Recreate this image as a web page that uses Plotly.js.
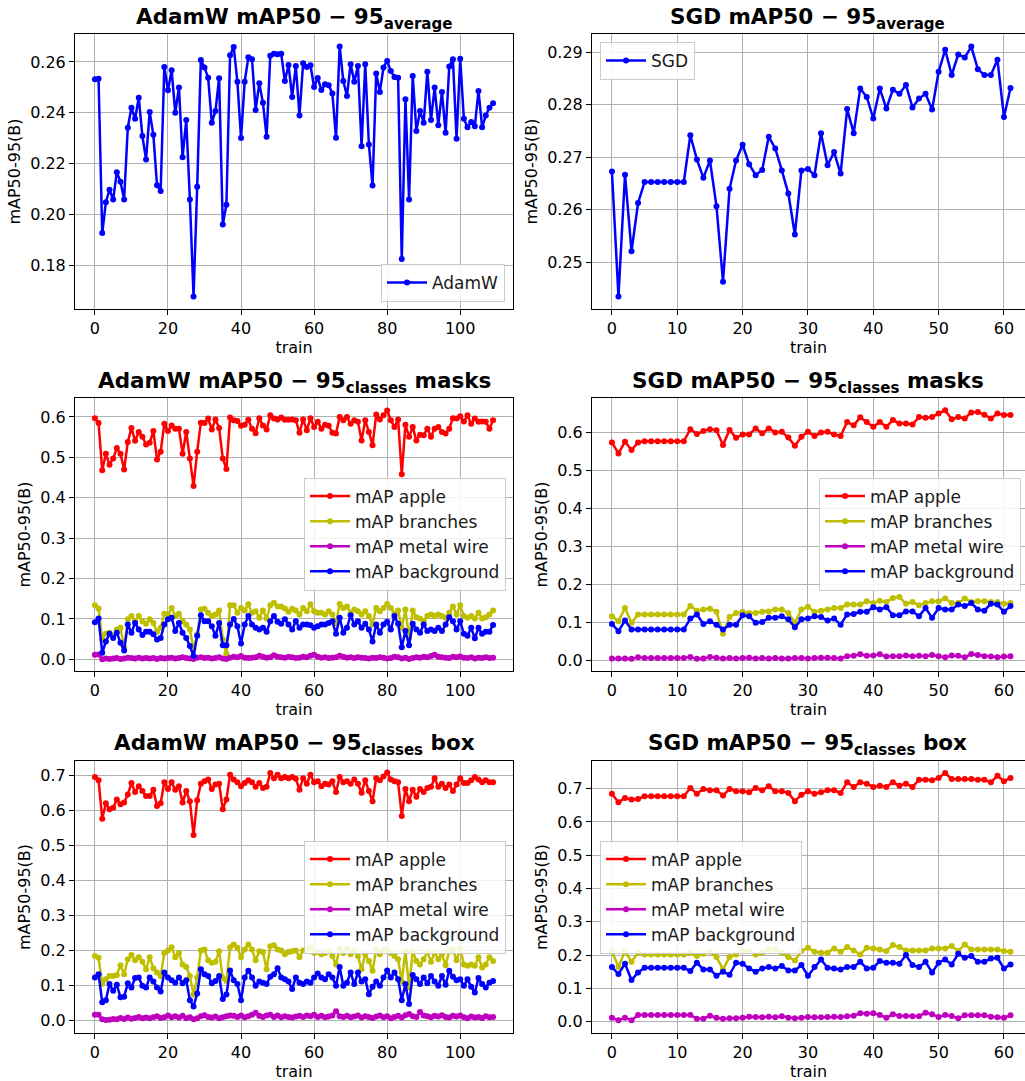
<!DOCTYPE html>
<html>
<head>
<meta charset="utf-8">
<script src="https://cdn.plot.ly/plotly-3.0.1.min.js"></script>
<style>html,body{margin:0;padding:0;background:#fff;}#chart{width:1025px;height:1081px;}</style>
</head>
<body>
<div id="chart"></div>
<script>
// ---------------- DATA ----------------
const adamwAverage = [
0.2532,0.2534,0.1926,0.2047,0.2097,0.2058,0.2166,0.2128,0.2058,0.2341,
0.2420,0.2376,0.2459,0.2308,0.2216,0.2403,0.2313,0.2114,0.2092,0.2580,
0.2488,0.2567,0.2400,0.2499,0.2225,0.2371,0.2058,0.1676,0.2108,0.2608,
0.2578,0.2538,0.2360,0.2407,0.2536,0.1960,0.2038,0.2626,0.2659,0.2522,
0.2300,0.2522,0.2618,0.2611,0.2411,0.2516,0.2439,0.2305,0.2624,0.2632,
0.2630,0.2632,0.2525,0.2588,0.2462,0.2584,0.2389,0.2595,0.2580,0.2587,
0.2501,0.2537,0.2489,0.2512,0.2508,0.2476,0.2301,0.2661,0.2525,0.2466,
0.2591,0.2522,0.2584,0.2268,0.2591,0.2275,0.2113,0.2554,0.2482,0.2578,
0.2604,0.2564,0.2541,0.2538,0.1824,0.2453,0.2058,0.2545,0.2328,0.2407,
0.2360,0.2561,0.2371,0.2499,0.2351,0.2482,0.2321,0.2582,0.2611,0.2297,
0.2613,0.2376,0.2343,0.2363,0.2347,0.2486,0.2343,0.2389,0.2420,0.2437];

const sgdAverage = [
0.2673,0.2435,0.2667,0.2521,0.2613,0.2653,0.2653,0.2653,0.2653,0.2653,
0.2653,0.2653,0.2742,0.2696,0.2661,0.2694,0.2607,0.2463,0.2640,0.2694,
0.2724,0.2687,0.2666,0.2676,0.2739,0.2717,0.2675,0.2631,0.2553,0.2675,
0.2678,0.2666,0.2746,0.2685,0.2710,0.2669,0.2792,0.2746,0.2831,0.2815,
0.2774,0.2831,0.2793,0.2829,0.2821,0.2838,0.2795,0.2812,0.2821,0.2791,
0.2863,0.2905,0.2857,0.2896,0.2890,0.2911,0.2868,0.2857,0.2857,0.2886,
0.2777,0.2832];

// AdamW masks
const adamwMaskApple = [
0.597,0.585,0.468,0.509,0.482,0.497,0.523,0.509,0.470,0.538,
0.573,0.541,0.563,0.551,0.532,0.536,0.565,0.495,0.514,0.583,
0.565,0.579,0.571,0.571,0.509,0.563,0.497,0.429,0.514,0.586,
0.585,0.596,0.569,0.594,0.573,0.497,0.471,0.599,0.592,0.590,
0.578,0.581,0.593,0.571,0.560,0.597,0.579,0.569,0.604,0.596,
0.594,0.599,0.593,0.593,0.594,0.592,0.561,0.594,0.567,0.597,
0.575,0.588,0.571,0.581,0.578,0.561,0.559,0.600,0.592,0.600,
0.583,0.592,0.588,0.542,0.592,0.563,0.530,0.606,0.594,0.604,
0.616,0.592,0.575,0.594,0.458,0.581,0.551,0.575,0.542,0.556,
0.555,0.571,0.551,0.571,0.575,0.563,0.559,0.571,0.597,0.596,
0.602,0.589,0.604,0.583,0.596,0.588,0.589,0.588,0.571,0.592];
const adamwMaskBranches = [
0.134,0.126,0.049,0.063,0.066,0.058,0.074,0.078,0.030,0.099,
0.107,0.094,0.107,0.094,0.088,0.099,0.090,0.068,0.078,0.113,
0.111,0.127,0.107,0.113,0.094,0.086,0.074,0.025,0.062,0.123,
0.125,0.115,0.107,0.111,0.121,0.049,0.014,0.134,0.134,0.115,
0.127,0.121,0.136,0.115,0.119,0.103,0.121,0.101,0.134,0.140,
0.131,0.131,0.126,0.118,0.125,0.121,0.111,0.127,0.119,0.136,
0.119,0.115,0.115,0.111,0.119,0.111,0.090,0.137,0.127,0.131,
0.115,0.123,0.119,0.111,0.119,0.107,0.086,0.127,0.119,0.127,
0.137,0.127,0.113,0.121,0.078,0.123,0.053,0.121,0.104,0.101,
0.094,0.107,0.111,0.107,0.111,0.107,0.103,0.115,0.131,0.111,
0.134,0.107,0.103,0.107,0.101,0.115,0.101,0.104,0.111,0.121];
const adamwMaskWire = [
0.011,0.012,0.000,0.002,0.001,0.002,0.003,0.001,0.002,0.004,
0.003,0.002,0.004,0.002,0.003,0.002,0.003,0.001,0.003,0.002,
0.003,0.004,0.002,0.003,0.005,0.003,0.002,0.001,0.004,0.005,
0.003,0.004,0.002,0.003,0.005,0.002,0.001,0.004,0.006,0.005,
0.008,0.004,0.003,0.004,0.005,0.009,0.006,0.004,0.005,0.010,
0.006,0.005,0.004,0.006,0.005,0.003,0.004,0.006,0.005,0.009,
0.011,0.006,0.004,0.005,0.003,0.004,0.005,0.009,0.006,0.004,
0.005,0.003,0.005,0.004,0.003,0.002,0.004,0.003,0.005,0.004,
0.002,0.003,0.006,0.005,0.002,0.004,0.001,0.003,0.005,0.004,
0.006,0.005,0.008,0.011,0.006,0.005,0.004,0.003,0.006,0.005,
0.007,0.004,0.003,0.005,0.002,0.004,0.003,0.005,0.003,0.004];
const adamwMaskBackground = [
0.092,0.101,0.016,0.044,0.063,0.053,0.066,0.041,0.022,0.086,
0.066,0.090,0.074,0.060,0.068,0.068,0.062,0.049,0.053,0.086,
0.099,0.103,0.070,0.090,0.066,0.053,0.033,0.008,0.058,0.109,
0.094,0.094,0.082,0.058,0.090,0.035,0.035,0.086,0.100,0.082,
0.039,0.086,0.107,0.086,0.078,0.074,0.078,0.068,0.094,0.107,
0.093,0.088,0.099,0.086,0.074,0.094,0.078,0.086,0.086,0.084,
0.078,0.082,0.086,0.086,0.090,0.094,0.063,0.103,0.066,0.078,
0.109,0.086,0.094,0.078,0.088,0.074,0.044,0.086,0.066,0.086,
0.093,0.074,0.107,0.088,0.030,0.070,0.035,0.088,0.074,0.066,
0.086,0.070,0.074,0.070,0.078,0.070,0.086,0.104,0.094,0.074,
0.094,0.063,0.058,0.078,0.052,0.078,0.063,0.068,0.068,0.085];

// SGD masks
const sgdMaskApple = [
0.574,0.545,0.576,0.554,0.574,0.577,0.577,0.577,0.577,0.577,
0.577,0.577,0.609,0.596,0.604,0.609,0.606,0.567,0.607,0.586,
0.595,0.595,0.611,0.598,0.611,0.600,0.602,0.587,0.565,0.589,
0.602,0.591,0.600,0.602,0.595,0.591,0.628,0.619,0.640,0.628,
0.615,0.628,0.615,0.633,0.624,0.624,0.621,0.641,0.639,0.641,
0.650,0.659,0.635,0.641,0.637,0.653,0.654,0.647,0.637,0.650,
0.646,0.646];
const sgdMaskBranches = [
0.116,0.103,0.138,0.099,0.121,0.121,0.121,0.121,0.121,0.121,
0.121,0.121,0.143,0.131,0.134,0.136,0.128,0.070,0.114,0.125,
0.128,0.125,0.125,0.128,0.129,0.134,0.134,0.125,0.099,0.134,
0.141,0.128,0.131,0.134,0.138,0.138,0.147,0.147,0.147,0.156,
0.151,0.157,0.154,0.164,0.167,0.149,0.154,0.145,0.151,0.156,
0.156,0.163,0.151,0.151,0.163,0.154,0.156,0.156,0.154,0.154,
0.149,0.151];
const sgdMaskWire = [
0.005,0.005,0.005,0.004,0.008,0.006,0.006,0.006,0.006,0.006,
0.006,0.006,0.009,0.004,0.005,0.009,0.007,0.005,0.006,0.005,
0.006,0.007,0.005,0.006,0.005,0.006,0.005,0.005,0.006,0.006,
0.005,0.006,0.007,0.007,0.006,0.005,0.011,0.012,0.016,0.012,
0.013,0.016,0.010,0.011,0.011,0.013,0.011,0.012,0.011,0.014,
0.011,0.008,0.013,0.012,0.008,0.017,0.014,0.011,0.010,0.008,
0.010,0.011];
const sgdMaskBackground = [
0.096,0.077,0.105,0.081,0.081,0.081,0.081,0.081,0.081,0.081,
0.081,0.081,0.110,0.121,0.096,0.103,0.094,0.081,0.094,0.094,
0.119,0.116,0.099,0.101,0.112,0.112,0.116,0.108,0.087,0.108,
0.110,0.116,0.114,0.105,0.110,0.094,0.121,0.122,0.128,0.128,
0.140,0.134,0.140,0.119,0.119,0.129,0.129,0.116,0.138,0.112,
0.138,0.134,0.134,0.147,0.143,0.151,0.134,0.131,0.149,0.147,
0.128,0.143];

// AdamW box
const adamwBoxApple = [
0.696,0.687,0.577,0.621,0.604,0.608,0.632,0.618,0.623,0.646,
0.679,0.653,0.670,0.656,0.642,0.642,0.660,0.613,0.621,0.681,
0.662,0.681,0.660,0.670,0.623,0.656,0.627,0.530,0.630,0.677,
0.684,0.689,0.662,0.675,0.677,0.604,0.632,0.703,0.689,0.681,
0.670,0.679,0.687,0.681,0.668,0.679,0.665,0.668,0.708,0.693,
0.703,0.693,0.696,0.693,0.696,0.691,0.660,0.693,0.677,0.703,
0.681,0.684,0.670,0.677,0.675,0.684,0.653,0.696,0.681,0.684,
0.677,0.689,0.677,0.651,0.687,0.656,0.627,0.693,0.687,0.698,
0.709,0.689,0.684,0.681,0.585,0.662,0.627,0.660,0.640,0.662,
0.653,0.665,0.668,0.693,0.668,0.677,0.665,0.675,0.656,0.675,
0.693,0.679,0.679,0.687,0.696,0.689,0.681,0.687,0.681,0.681];
const adamwBoxBranches = [
0.184,0.179,0.105,0.118,0.127,0.127,0.130,0.158,0.132,0.175,
0.187,0.172,0.181,0.168,0.146,0.181,0.149,0.137,0.127,0.193,
0.200,0.209,0.181,0.193,0.160,0.153,0.127,0.074,0.123,0.200,
0.203,0.172,0.165,0.168,0.198,0.121,0.113,0.209,0.217,0.208,
0.181,0.203,0.217,0.203,0.172,0.198,0.196,0.146,0.212,0.215,
0.203,0.200,0.189,0.196,0.198,0.200,0.181,0.200,0.203,0.209,
0.193,0.196,0.189,0.193,0.198,0.184,0.160,0.206,0.193,0.206,
0.189,0.198,0.184,0.146,0.189,0.170,0.142,0.203,0.189,0.200,
0.203,0.193,0.184,0.175,0.111,0.198,0.094,0.198,0.170,0.160,
0.175,0.196,0.168,0.193,0.175,0.189,0.158,0.198,0.203,0.172,
0.206,0.160,0.156,0.160,0.156,0.181,0.151,0.160,0.181,0.170];
const adamwBoxWire = [
0.016,0.016,0.003,0.001,0.002,0.004,0.003,0.007,0.004,0.008,
0.005,0.007,0.010,0.006,0.008,0.006,0.009,0.012,0.007,0.009,
0.014,0.009,0.012,0.008,0.013,0.006,0.009,0.003,0.006,0.012,
0.015,0.010,0.008,0.011,0.006,0.009,0.012,0.014,0.013,0.010,
0.014,0.009,0.012,0.016,0.022,0.013,0.010,0.014,0.016,0.010,
0.014,0.009,0.012,0.010,0.008,0.011,0.013,0.010,0.014,0.012,
0.016,0.010,0.013,0.009,0.011,0.014,0.026,0.012,0.010,0.013,
0.009,0.011,0.014,0.008,0.012,0.010,0.007,0.011,0.014,0.009,
0.012,0.006,0.010,0.013,0.008,0.015,0.018,0.012,0.010,0.024,
0.014,0.012,0.009,0.013,0.011,0.015,0.010,0.008,0.013,0.011,
0.014,0.009,0.006,0.011,0.008,0.010,0.007,0.012,0.009,0.010];
const adamwBoxBackground = [
0.123,0.132,0.052,0.058,0.104,0.085,0.102,0.066,0.068,0.106,
0.094,0.121,0.123,0.099,0.094,0.123,0.111,0.094,0.083,0.137,
0.123,0.115,0.108,0.123,0.106,0.115,0.058,0.040,0.077,0.146,
0.132,0.127,0.106,0.113,0.127,0.061,0.074,0.143,0.115,0.104,
0.058,0.123,0.142,0.123,0.099,0.111,0.108,0.104,0.125,0.132,
0.149,0.123,0.118,0.111,0.090,0.123,0.108,0.104,0.111,0.108,
0.123,0.134,0.123,0.118,0.132,0.123,0.099,0.153,0.099,0.108,
0.137,0.104,0.137,0.111,0.118,0.075,0.096,0.111,0.099,0.123,
0.143,0.123,0.137,0.118,0.058,0.104,0.047,0.130,0.118,0.104,
0.123,0.106,0.127,0.111,0.099,0.127,0.102,0.142,0.125,0.115,
0.118,0.099,0.118,0.096,0.080,0.121,0.104,0.094,0.108,0.113];

// SGD box
const sgdBoxApple = [
0.685,0.659,0.672,0.667,0.669,0.677,0.677,0.677,0.677,0.677,
0.677,0.677,0.702,0.685,0.699,0.695,0.695,0.679,0.699,0.692,
0.692,0.689,0.702,0.695,0.707,0.692,0.692,0.687,0.662,0.682,
0.692,0.685,0.689,0.695,0.695,0.687,0.719,0.705,0.719,0.715,
0.705,0.709,0.705,0.719,0.709,0.715,0.705,0.727,0.727,0.725,
0.732,0.747,0.729,0.729,0.729,0.729,0.727,0.727,0.719,0.739,
0.722,0.732];
const sgdBoxBranches = [
0.212,0.164,0.212,0.180,0.207,0.202,0.202,0.202,0.202,0.202,
0.202,0.202,0.207,0.197,0.204,0.210,0.194,0.157,0.194,0.202,
0.212,0.212,0.202,0.207,0.217,0.217,0.207,0.194,0.184,0.212,
0.222,0.210,0.207,0.207,0.220,0.210,0.224,0.214,0.202,0.222,
0.220,0.217,0.212,0.230,0.224,0.214,0.214,0.214,0.214,0.220,
0.220,0.220,0.227,0.212,0.232,0.217,0.217,0.217,0.217,0.217,
0.212,0.210];
const sgdBoxWire = [
0.012,0.004,0.012,0.004,0.020,0.020,0.020,0.020,0.020,0.020,
0.020,0.020,0.020,0.009,0.009,0.018,0.012,0.009,0.010,0.010,
0.012,0.015,0.014,0.013,0.015,0.013,0.016,0.012,0.010,0.012,
0.014,0.013,0.013,0.014,0.015,0.014,0.016,0.018,0.025,0.024,
0.025,0.020,0.012,0.022,0.017,0.017,0.016,0.016,0.027,0.022,
0.014,0.020,0.017,0.010,0.019,0.019,0.019,0.019,0.015,0.013,
0.012,0.019];
const sgdBoxBackground = [
0.164,0.143,0.174,0.125,0.148,0.162,0.162,0.162,0.162,0.162,
0.162,0.162,0.152,0.177,0.157,0.157,0.138,0.150,0.141,0.177,
0.174,0.160,0.150,0.160,0.164,0.160,0.167,0.154,0.154,0.170,
0.138,0.164,0.187,0.162,0.160,0.157,0.164,0.164,0.180,0.160,
0.162,0.182,0.177,0.177,0.174,0.200,0.170,0.164,0.180,0.148,
0.177,0.187,0.172,0.204,0.192,0.197,0.180,0.180,0.190,0.192,
0.160,0.172];

const classNames = ['mAP apple', 'mAP branches', 'mAP metal wire', 'mAP background'];
const classColors = ['#ff0000', '#bfbf00', '#bf00bf', '#0000ff'];
const panelTitles = [
  '<b>AdamW mAP50 − 95<sub>average</sub></b>',
  '<b>SGD mAP50 − 95<sub>average</sub></b>',
  '<b>AdamW mAP50 − 95<sub>classes</sub> masks</b>',
  '<b>SGD mAP50 − 95<sub>classes</sub> masks</b>',
  '<b>AdamW mAP50 − 95<sub>classes</sub> box</b>',
  '<b>SGD mAP50 − 95<sub>classes</sub> box</b>'
];
const xLabel = 'train';
const yLabel = 'mAP50-95(B)';

// ---------------- LAYOUT HELPERS ----------------
const W = 1025, H = 1081;
const FONT = 'DejaVu Sans, Liberation Sans, sans-serif';
const fx = p => p / W;
const fy = p => 1 - p / H;
const cols = [[75, 513], [592, 1025]];
const rows = [[34, 309], [398, 671], [761, 1033]];
const idx = arr => arr.map((_, i) => i);

const traces = [];
function line(x, y, name, color, ax, leg) {
  traces.push({
    type: 'scatter', mode: 'lines+markers', x: x, y: y, name: name,
    line: {color: color, width: 2.5}, marker: {color: color, size: 6},
    xaxis: 'x' + (ax === 1 ? '' : ax), yaxis: 'y' + (ax === 1 ? '' : ax),
    legend: leg, showlegend: true
  });
}

line(idx(adamwAverage), adamwAverage, 'AdamW', '#0000ff', 1, 'legend');
line(idx(sgdAverage), sgdAverage, 'SGD', '#0000ff', 2, 'legend2');
[adamwMaskApple, adamwMaskBranches, adamwMaskWire, adamwMaskBackground].forEach((s, k) =>
  line(idx(s), s, classNames[k], classColors[k], 3, 'legend3'));
[sgdMaskApple, sgdMaskBranches, sgdMaskWire, sgdMaskBackground].forEach((s, k) =>
  line(idx(s), s, classNames[k], classColors[k], 4, 'legend4'));
[adamwBoxApple, adamwBoxBranches, adamwBoxWire, adamwBoxBackground].forEach((s, k) =>
  line(idx(s), s, classNames[k], classColors[k], 5, 'legend5'));
[sgdBoxApple, sgdBoxBranches, sgdBoxWire, sgdBoxBackground].forEach((s, k) =>
  line(idx(s), s, classNames[k], classColors[k], 6, 'legend6'));

const layout = {
  width: W, height: H,
  margin: {l: 0, r: 0, t: 0, b: 0},
  paper_bgcolor: '#ffffff', plot_bgcolor: '#ffffff',
  font: {family: FONT, color: '#000000', size: 16},
  annotations: []
};

const yRanges = [[0.1627, 0.2710], [0.2411, 0.2935], [-0.029, 0.647], [-0.028, 0.691], [-0.036, 0.742], [-0.034, 0.783]];
const yDticks = [0.02, 0.01, 0.1, 0.1, 0.1, 0.1];
const yFormats = ['.2f', '.2f', '.1f', '.1f', '.1f', '.1f'];

for (let p = 0; p < 6; p++) {
  const c = p % 2, r = Math.floor(p / 2);
  const suffix = p === 0 ? '' : String(p + 1);
  const isSGD = c === 1;
  layout['xaxis' + suffix] = {
    domain: [fx(cols[c][0]), fx(cols[c][1])],
    range: isSGD ? [-3.05, 63.22] : [-5.45, 114.45],
    anchor: 'y' + suffix,
    dtick: isSGD ? 10 : 20, tick0: 0,
    showline: true, mirror: true, linecolor: '#000000', linewidth: 1,
    ticks: 'outside', ticklen: 5, tickcolor: '#000000',
    showgrid: true, gridcolor: '#b0b0b0', gridwidth: 1, zeroline: false,
    tickfont: {family: FONT, size: 16, color: '#000000'},
    title: {text: xLabel, font: {family: FONT, size: 16, color: '#000000'}, standoff: 4}
  };
  layout['yaxis' + suffix] = {
    domain: [fy(rows[r][1]), fy(rows[r][0])],
    range: yRanges[p],
    anchor: 'x' + suffix,
    dtick: yDticks[p], tickformat: yFormats[p],
    showline: true, mirror: !isSGD, linecolor: '#000000', linewidth: 1,
    ticks: 'outside', ticklen: 5, tickcolor: '#000000',
    showgrid: true, gridcolor: '#b0b0b0', gridwidth: 1, zeroline: false,
    tickfont: {family: FONT, size: 16, color: '#000000'},
    title: {text: yLabel, font: {family: FONT, size: 16, color: '#000000'}, standoff: 5}
  };
  layout.annotations.push({
    text: panelTitles[p], xref: 'paper', yref: 'paper',
    x: fx((cols[c][0] + (c === 1 ? 1023 : cols[c][1])) / 2), y: fy(rows[r][0] - 16),
    xanchor: 'center', yanchor: 'middle', showarrow: false,
    font: {family: FONT, size: 21.5, color: '#000000'}
  });
}

const legBase = {
  bgcolor: 'rgba(255,255,255,0.85)', bordercolor: '#cccccc', borderwidth: 1,
  font: {family: FONT, size: 17, color: '#1a1a1a'}, itemwidth: 40, tracegroupgap: 0
};
layout.legend  = Object.assign({}, legBase, {x: fx(505), y: fy(302), xanchor: 'right', yanchor: 'bottom'});
layout.legend2 = Object.assign({}, legBase, {x: fx(600), y: fy(42), xanchor: 'left', yanchor: 'top'});
layout.legend3 = Object.assign({}, legBase, {x: fx(506), y: fy(534), xanchor: 'right', yanchor: 'middle'});
layout.legend4 = Object.assign({}, legBase, {x: fx(1021), y: fy(534), xanchor: 'right', yanchor: 'middle'});
layout.legend5 = Object.assign({}, legBase, {x: fx(506), y: fy(897), xanchor: 'right', yanchor: 'middle'});
layout.legend6 = Object.assign({}, legBase, {x: fx(600), y: fy(897), xanchor: 'left', yanchor: 'middle'});

Plotly.newPlot('chart', traces, layout, {displayModeBar: false, staticPlot: true});
</script>
</body>
</html>
